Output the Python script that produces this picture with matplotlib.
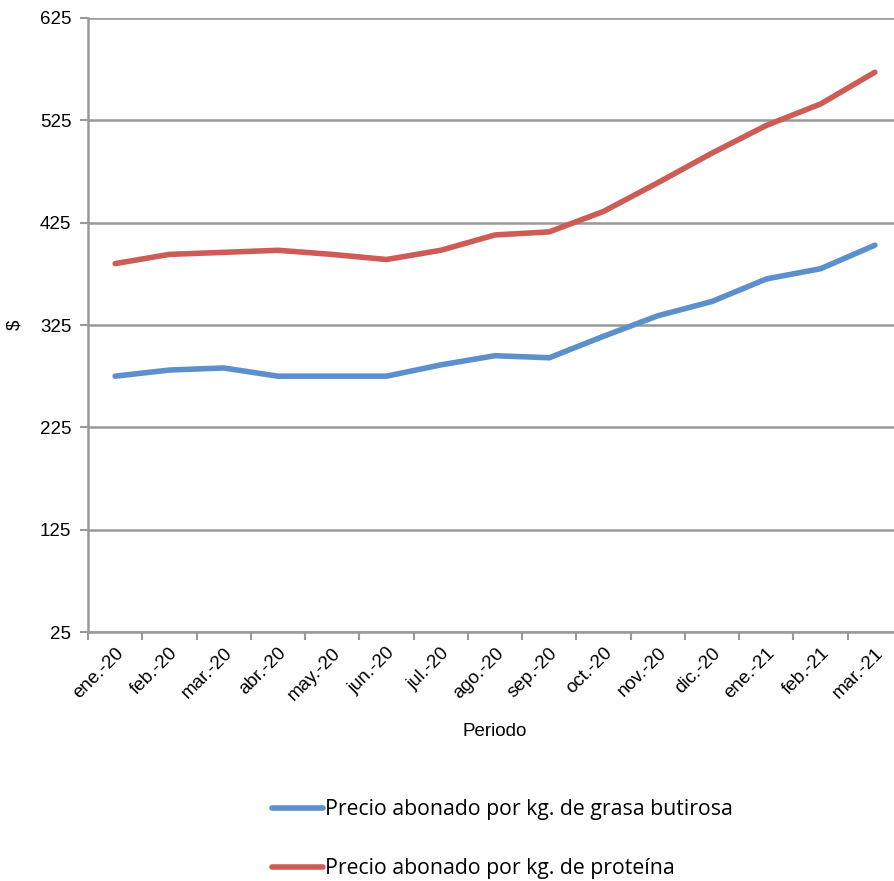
import matplotlib
matplotlib.use('Agg')
import matplotlib.pyplot as plt

# Monthly periods and prices
periodos = ['ene.-20', 'feb.-20', 'mar.-20', 'abr.-20', 'may.-20', 'jun.-20',
            'jul.-20', 'ago.-20', 'sep.-20', 'oct.-20', 'nov.-20', 'dic.-20',
            'ene.-21', 'feb.-21', 'mar.-21']
grasa_butirosa = [275, 281, 283, 275, 275, 275, 286, 295, 293, 314, 334, 348, 370, 380, 403]
proteina = [385, 394, 396, 398, 394, 389, 398, 413, 416, 436, 464, 493, 520, 541, 572]
y_ticks = [25, 125, 225, 325, 425, 525, 625]

plt.rcParams['font.family'] = ['Liberation Sans', 'DejaVu Sans']

fig = plt.figure(figsize=(8.94, 8.81), dpi=100)
ax = fig.add_axes([88 / 894, 0.2826, 814 / 894, 0.697])

x = list(range(len(periodos)))
ax.plot(x, grasa_butirosa, color='#5B90CC', linewidth=4,
        solid_capstyle='round', label='Precio abonado por kg. de grasa butirosa', zorder=3)
ax.plot(x, proteina, color='#CD5C57', linewidth=4,
        solid_capstyle='round', label='Precio abonado por kg. de proteína', zorder=3)

ax.set_xlim(-0.5, len(periodos) - 0.5)
ax.set_ylim(25, 625)
ax.set_yticks(y_ticks)
ax.yaxis.grid(True, color='#999999', linewidth=1.8)
ax.set_axisbelow(True)

# category ticks sit on the boundaries, labels under the centres
ax.set_xticks([i - 0.5 for i in range(len(periodos) + 1)])
ax.set_xticklabels([])
ax.set_xticks(x, minor=True)
ax.set_xticklabels(periodos, minor=True, rotation=45, ha='right',
                   rotation_mode='anchor', fontsize=13.5)
ax.tick_params(axis='x', which='minor', length=0, pad=9)
ax.tick_params(axis='x', which='major', length=6, width=1.5, color='#999999', direction='out')
ax.tick_params(axis='y', length=6, width=1.5, color='#999999', labelsize=13.5, pad=6)

for side in ['top', 'right']:
    ax.spines[side].set_visible(False)
for side in ['left', 'bottom']:
    ax.spines[side].set_color('#999999')
    ax.spines[side].set_linewidth(1.8)

ax.set_ylabel('$', fontsize=13.5, labelpad=12)
fig.text(495 / 894, 1 - 732 / 881, 'Periodo', ha='center', va='center', fontsize=13.5)

leg = fig.legend(loc='upper left', bbox_to_anchor=(253 / 894, 1 - 780 / 881),
                 frameon=False, handlelength=2.4, handletextpad=0.1,
                 labelspacing=1.8, prop={'family': ['Open Sans', 'DejaVu Sans'], 'size': 15.3})

fig.savefig('out.png', dpi=100)
